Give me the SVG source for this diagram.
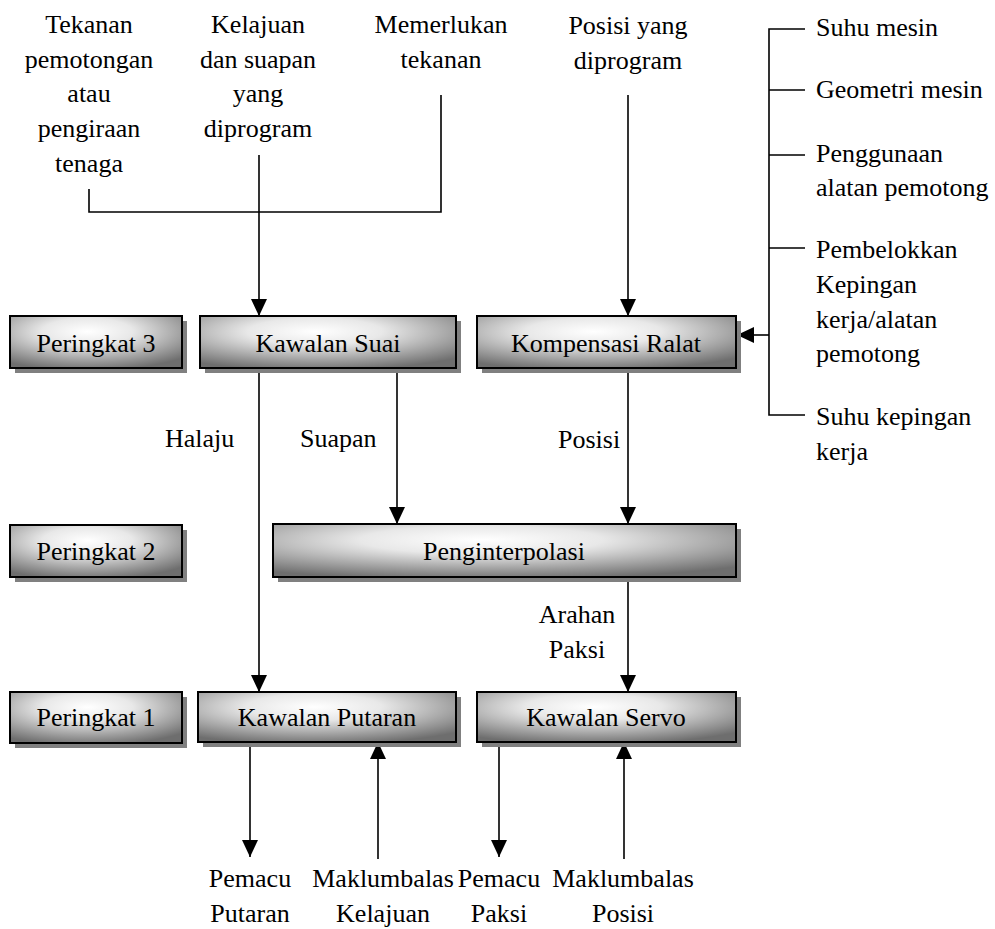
<svg xmlns="http://www.w3.org/2000/svg" width="995" height="929" viewBox="0 0 995 929">
<defs>
<radialGradient id="g" cx="0.45" cy="0.3" r="0.75">
<stop offset="0" stop-color="#ffffff"/>
<stop offset="0.35" stop-color="#e8e8e8"/>
<stop offset="1" stop-color="#6e6e6e"/>
</radialGradient>
<marker id="a" markerUnits="userSpaceOnUse" markerWidth="18" markerHeight="16" refX="17" refY="8" orient="auto">
<path d="M0,0 L17,8 L0,16 z" fill="#000"/>
</marker>
<style>
text{font-family:"Liberation Serif","Times New Roman",serif;font-size:26px;fill:#000}
.c{text-anchor:middle}
.sh{fill:#808080}
.bx{fill:url(#g);stroke:#000;stroke-width:2}
.ln{fill:none;stroke:#000;stroke-width:1.6}
.ar{fill:none;stroke:#000;stroke-width:1.6;marker-end:url(#a)}
</style>
</defs>
<rect width="995" height="929" fill="#fff"/>

<g id="inputs">
<text class="c" x="89" y="33">Tekanan</text>
<text class="c" x="89" y="68">pemotongan</text>
<text class="c" x="89" y="102">atau</text>
<text class="c" x="89" y="137">pengiraan</text>
<text class="c" x="89" y="172">tenaga</text>
<text class="c" x="258" y="33">Kelajuan</text>
<text class="c" x="258" y="68">dan suapan</text>
<text class="c" x="258" y="102">yang</text>
<text class="c" x="258" y="137">diprogram</text>
<text class="c" x="441" y="33">Memerlukan</text>
<text class="c" x="441" y="68">tekanan</text>
<text class="c" x="628" y="34">Posisi yang</text>
<text class="c" x="628" y="69">diprogram</text>
</g>

<g id="factors">
<text x="816" y="36">Suhu mesin</text>
<text x="816" y="98">Geometri mesin</text>
<text x="816" y="162">Penggunaan</text>
<text x="816" y="196">alatan pemotong</text>
<text x="816" y="258">Pembelokkan</text>
<text x="816" y="293">Kepingan</text>
<text x="816" y="328">kerja/alatan</text>
<text x="816" y="362">pemotong</text>
<text x="816" y="425">Suhu kepingan</text>
<text x="816" y="460">kerja</text>
</g>

<g id="connectors">
<path class="ln" d="M89,189 V212 H441 V95"/>
<path class="ar" d="M259,155 V316"/>
<path class="ar" d="M628,95 V316"/>
<path class="ln" d="M805,29 H769 V415 H805 M769,90 H805 M769,155 H805 M769,248 H805"/>
<path class="ar" d="M769,335 H737"/>
<path class="ar" d="M259,368 V692"/>
<path class="ar" d="M397,368 V524"/>
<path class="ar" d="M628,368 V524"/>
<path class="ar" d="M628,577 V692"/>
<path class="ar" d="M250,742 V857"/>
<path class="ar" d="M378,859 V742"/>
<path class="ar" d="M499,742 V857"/>
<path class="ar" d="M624,859 V742"/>
<text x="165" y="447">Halaju</text>
<text x="300" y="447">Suapan</text>
<text x="558" y="448">Posisi</text>
<text class="c" x="577" y="623">Arahan</text>
<text class="c" x="577" y="658">Paksi</text>
</g>

<g id="p3">
<rect class="sh" x="15" y="321" width="172" height="52"/>
<rect class="bx" x="10" y="316" width="172" height="52"/>
<text class="c" x="96" y="352">Peringkat 3</text>
</g>
<g id="suai">
<rect class="sh" x="205" y="321" width="256" height="52"/>
<rect class="bx" x="200" y="316" width="256" height="52"/>
<text class="c" x="328" y="352">Kawalan Suai</text>
</g>
<g id="ralat">
<rect class="sh" x="482" y="321" width="259" height="52"/>
<rect class="bx" x="477" y="316" width="259" height="52"/>
<text class="c" x="606" y="352">Kompensasi Ralat</text>
</g>
<g id="p2">
<rect class="sh" x="15" y="530" width="172" height="52"/>
<rect class="bx" x="10" y="525" width="172" height="52"/>
<text class="c" x="96" y="560">Peringkat 2</text>
</g>
<g id="interp">
<rect class="sh" x="278" y="529" width="463" height="53"/>
<rect class="bx" x="273" y="524" width="463" height="53"/>
<text class="c" x="504" y="560">Penginterpolasi</text>
</g>
<g id="p1">
<rect class="sh" x="15" y="697" width="172" height="51"/>
<rect class="bx" x="10" y="692" width="172" height="51"/>
<text class="c" x="96" y="726">Peringkat 1</text>
</g>
<g id="putaran">
<rect class="sh" x="203" y="697" width="258" height="50"/>
<rect class="bx" x="198" y="692" width="258" height="50"/>
<text class="c" x="327" y="726">Kawalan Putaran</text>
</g>
<g id="servo">
<rect class="sh" x="482" y="697" width="259" height="50"/>
<rect class="bx" x="477" y="692" width="259" height="50"/>
<text class="c" x="606" y="726">Kawalan Servo</text>
</g>

<g id="outputs">
<text class="c" x="250" y="887">Pemacu</text>
<text class="c" x="250" y="922">Putaran</text>
<text class="c" x="383" y="887">Maklumbalas</text>
<text class="c" x="383" y="922">Kelajuan</text>
<text class="c" x="499" y="887">Pemacu</text>
<text class="c" x="499" y="922">Paksi</text>
<text class="c" x="623" y="887">Maklumbalas</text>
<text class="c" x="623" y="922">Posisi</text>
</g>
</svg>
